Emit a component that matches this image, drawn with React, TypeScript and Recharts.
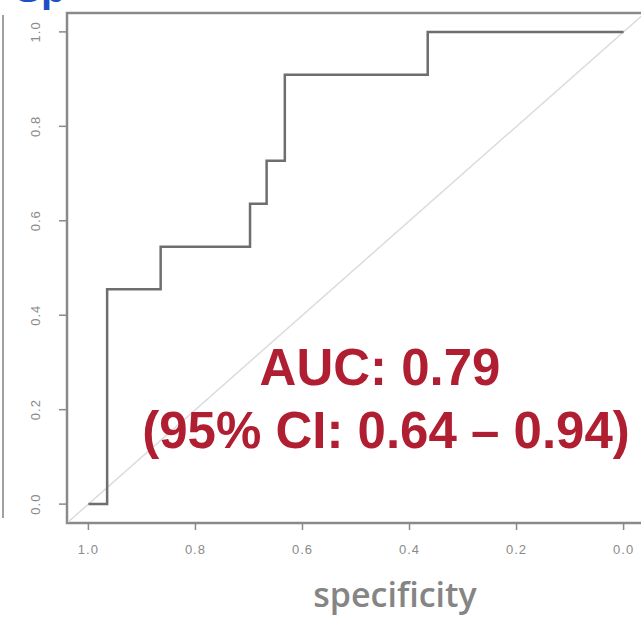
import { LineChart, Line, XAxis, YAxis, ReferenceLine, ReferenceArea } from 'recharts'

// ROC curve (specificity runs 1 -> 0)
const specificity = [1.0, 0.965, 0.865, 0.698, 0.667, 0.633, 0.366, 0.0]
const sensitivity = [0.0, 0.455, 0.545, 0.636, 0.727, 0.909, 1.0, 1.0]
const axisTicks = [0, 0.2, 0.4, 0.6, 0.8, 1.0]
const aucLabel = 'AUC: 0.79'
const ciLabel = '(95% CI: 0.64 – 0.94)'
const xTitle = 'specificity'

const rocData = specificity.map((sp, i) => ({ sp, se: sensitivity[i] }))

const tickFill = '#8a8a8a'
const red = '#b01e32'

function YTick(props: any) {
  const { y, payload } = props
  return (
    <text
      x={36}
      y={y}
      transform={`rotate(-90, 36, ${y})`}
      textAnchor="middle"
      dominantBaseline="central"
      fontSize={13}
      fill={tickFill}
      fontFamily="Liberation Sans, Arial, sans-serif"
      letterSpacing={1}
    >
      {payload.value.toFixed(1)}
    </text>
  )
}

export default function App() {
  return (
    <div style={{ position: 'absolute', left: 0, top: 0, width: 641, height: 620, overflow: 'hidden', background: '#fff' }}>
      <div style={{ position: 'absolute', left: 2, top: 15, width: 2, height: 503, background: '#a0a0a0' }} />
      <LineChart
        width={700}
        height={620}
        data={rocData}
        margin={{ top: 13, right: 55, bottom: 67, left: 27 }}
      >
        <XAxis
          dataKey="sp"
          type="number"
          domain={[-0.04, 1.04]}
          reversed
          ticks={axisTicks}
          tickFormatter={(v: number) => v.toFixed(1)}
          height={30}
          tickSize={7}
          tickMargin={15}
          stroke="#8a8a8a"
          strokeWidth={1.5}
          tick={{ fill: tickFill, fontSize: 13, fontFamily: 'Liberation Sans, Arial, sans-serif', letterSpacing: 1 }}
        />
        <YAxis
          type="number"
          domain={[-0.04, 1.04]}
          ticks={axisTicks}
          width={40}
          tickSize={8}
          stroke="#8a8a8a"
          strokeWidth={1.5}
          tick={<YTick />}
        />
        <ReferenceArea x1={-0.04} x2={1.04} y1={-0.04} y2={1.04} fill="none" stroke="#8a8a8a" strokeWidth={2.5} />
        <ReferenceLine
          segment={[{ x: 1.04, y: -0.04 }, { x: -0.04, y: 1.04 }]}
          stroke="#dcdcdc"
          strokeWidth={1.5}
        />
        <Line
          type="stepAfter"
          dataKey="se"
          stroke="#6e6e6e"
          strokeWidth={2.5}
          dot={false}
          isAnimationActive={false}
        />
      </LineChart>
      <svg width={641} height={620} style={{ position: 'absolute', left: 0, top: 0, pointerEvents: 'none' }}>
        <text x={40} y={2} fontSize={40} fontWeight="bold" fill="#1f4fc4" fontFamily="Liberation Sans, Arial, sans-serif" textAnchor="middle">
          Sp
        </text>
        <text x={380} y={385} fontSize={51} fontWeight="bold" fill={red} fontFamily="Liberation Sans, Arial, sans-serif" textAnchor="middle">
          {aucLabel}
        </text>
        <text x={386} y={448} fontSize={51} fontWeight="bold" fill={red} fontFamily="Liberation Sans, Arial, sans-serif" textAnchor="middle">
          {ciLabel}
        </text>
        <text x={395} y={607} fontSize={34} fontWeight={600} fill="#858585" fontFamily="Open Sans, sans-serif" textAnchor="middle">
          {xTitle}
        </text>
      </svg>
    </div>
  )
}
